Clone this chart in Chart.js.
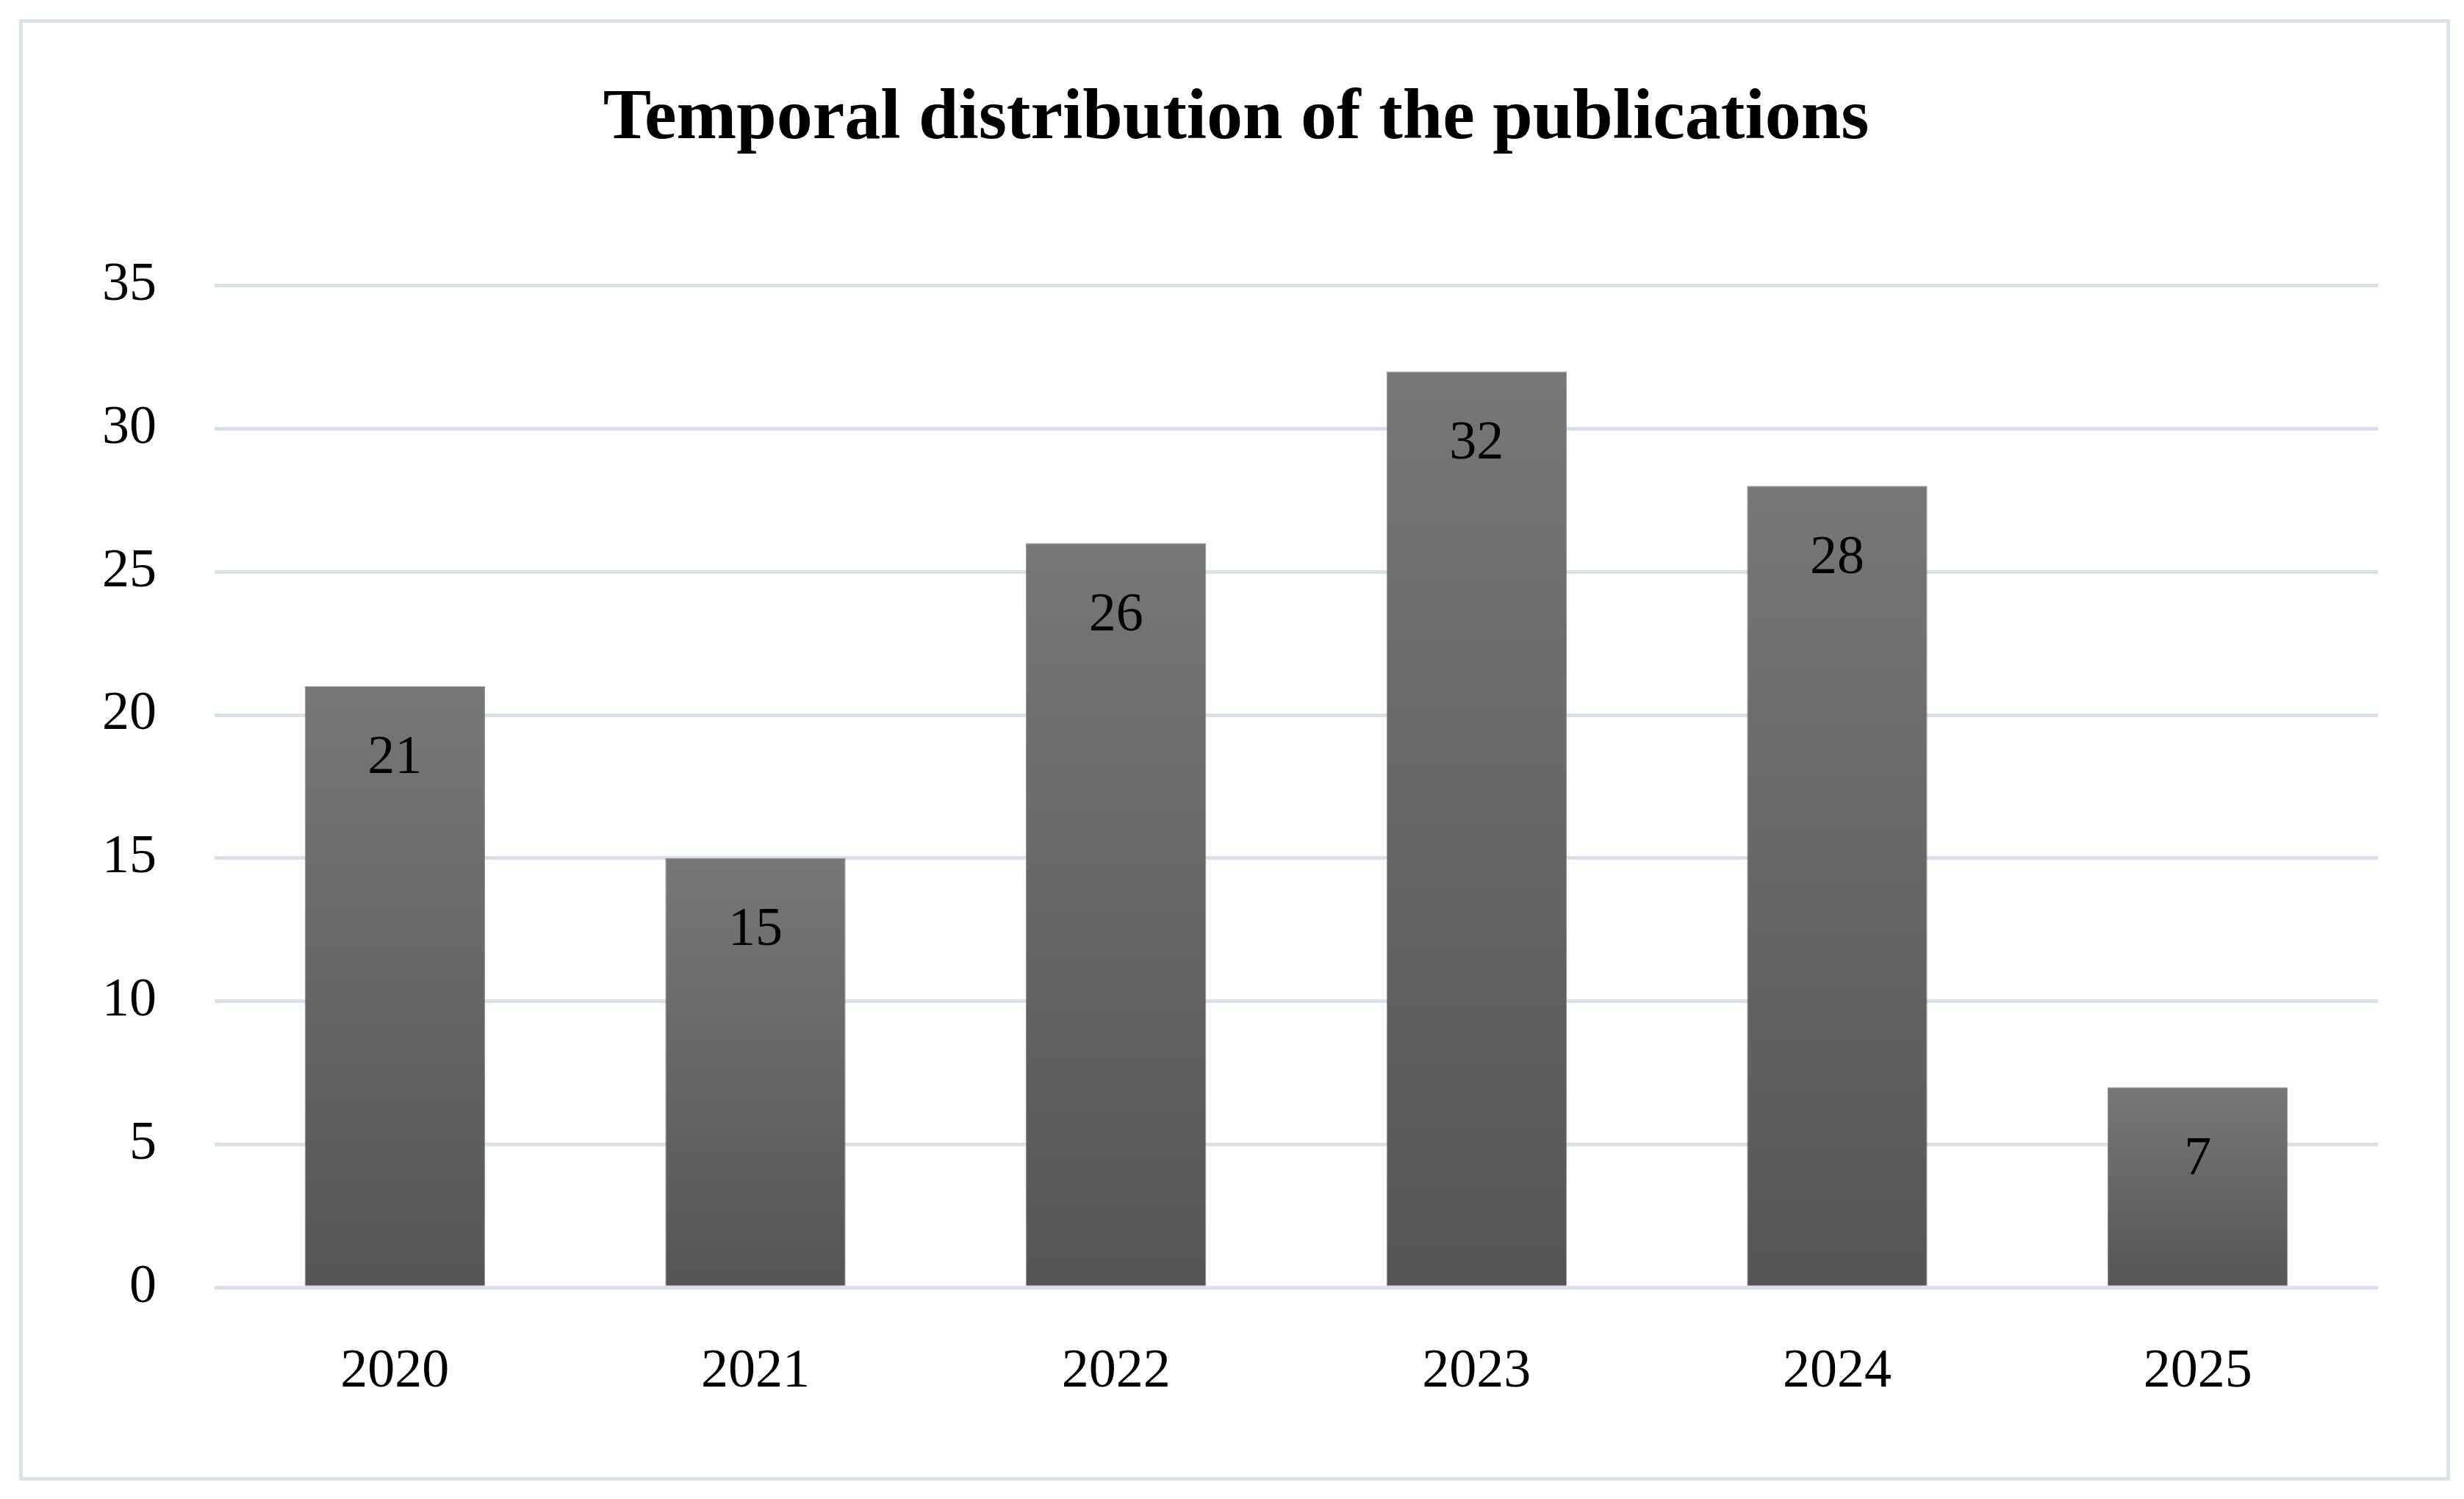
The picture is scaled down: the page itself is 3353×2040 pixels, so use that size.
<!DOCTYPE html>
<html>
<head>
<meta charset="utf-8">
<script src="https://cdn.jsdelivr.net/npm/chart.js@4"></script>
<style>
  html, body { margin: 0; padding: 0; background: #ffffff; }
  #wrap { position: absolute; left: 0; top: 0; width: 3353px; height: 2040px; }
  #frame { position: absolute; left: 26px; top: 26px; width: 3298px; height: 1979px; border: 5px solid #dce2e9; box-sizing: content-box; pointer-events: none; }
</style>
</head>
<body>
<div id="wrap">
  <canvas id="c" width="3353" height="2040"></canvas>
  <div id="frame"></div>
</div>
<script>
const titleText = "Temporal distribution of the publications";
const years = ["2020", "2021", "2022", "2023", "2024", "2025"];
const publications = [21, 15, 26, 32, 28, 7];
const yTicks = [0, 5, 10, 15, 20, 25, 30, 35];

const serif = "'Palatino Linotype', 'Book Antiqua', Palatino, 'Liberation Serif', serif";

function barGradient(ctx) {
  const chart = ctx.chart;
  if (!chart.chartArea || ctx.type !== 'data') return '#636363';
  const y = chart.scales.y;
  const top = y.getPixelForValue(ctx.raw);
  const bottom = y.getPixelForValue(0);
  const g = chart.ctx.createLinearGradient(0, top, 0, bottom);
  g.addColorStop(0, '#777777');
  g.addColorStop(1, '#555555');
  return g;
}

const dataLabels = {
  id: 'dataLabels',
  afterDatasetsDraw(chart) {
    const c = chart.ctx;
    const meta = chart.getDatasetMeta(0);
    c.save();
    c.font = "74px " + serif;
    c.fillStyle = '#000000';
    c.textAlign = 'center';
    c.textBaseline = 'middle';
    meta.data.forEach((bar, i) => {
      c.fillText(String(publications[i]), bar.x, bar.y + 99);
    });
    c.restore();
  }
};

Chart.defaults.font.family = serif;
new Chart(document.getElementById('c'), {
  type: 'bar',
  data: {
    labels: years,
    datasets: [{
      data: publications,
      backgroundColor: barGradient,
      borderColor: 'rgba(80,80,80,0.6)',
      borderWidth: 1,
      categoryPercentage: 1.0,
      barPercentage: 0.5
    }]
  },
  options: {
    responsive: false,
    animation: false,
    devicePixelRatio: 1,
    layout: { padding: { left: 128, right: 117, top: 0, bottom: 57 } },
    plugins: {
      legend: { display: false },
      tooltip: { enabled: false },
      title: {
        display: true,
        text: titleText,
        color: '#000000',
        font: { size: 98, weight: 'bold', family: serif, lineHeight: 1.2 },
        padding: { top: 104, bottom: 167 }
      }
    },
    scales: {
      x: {
        grid: { display: false, drawTicks: false },
        border: { display: false },
        ticks: { color: '#000000', font: { size: 74, family: serif }, padding: 71 }
      },
      y: {
        min: 0,
        max: 35,
        afterBuildTicks(scale) { scale.ticks = yTicks.map(v => ({ value: v })); },
        afterFit(scale) { scale.width = 164; },
        grid: { color: '#d9e0e8', lineWidth: 5, drawTicks: false },
        border: { display: false },
        ticks: { color: '#000000', font: { size: 74, family: serif }, padding: 79 }
      }
    }
  },
  plugins: [dataLabels]
});
</script>
</body>
</html>
